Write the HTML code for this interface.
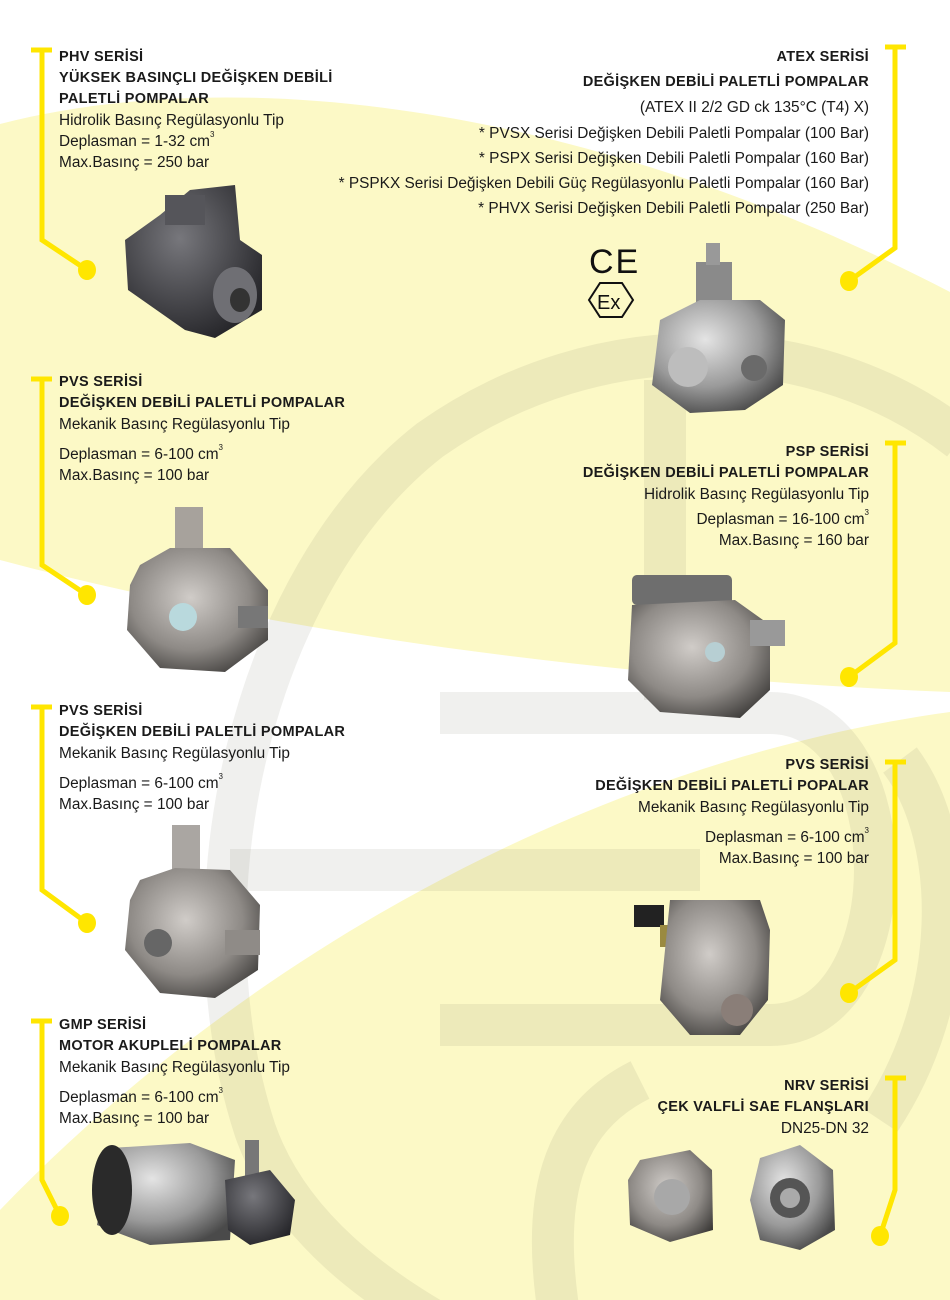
<!DOCTYPE html>
<html><head><meta charset="utf-8">
<style>
html,body{margin:0;padding:0}
body{width:950px;height:1300px;position:relative;overflow:hidden;background:#fff;font-family:"Liberation Sans",sans-serif;color:#1a1a1a}
.t{position:absolute;font-size:15.4px;line-height:21px;white-space:nowrap}
.b{font-weight:bold;letter-spacing:0.3px;font-size:14.5px}
.r{text-align:right}
sup{font-size:8px;vertical-align:top;line-height:8px}
svg{position:absolute;left:0;top:0}
</style></head><body>
<svg width="950" height="1300" viewBox="0 0 950 1300">
  <defs>
    <radialGradient id="dk" cx="40%" cy="35%" r="70%"><stop offset="0" stop-color="#77777c"/><stop offset="1" stop-color="#26262a"/></radialGradient>
    <radialGradient id="sv" cx="40%" cy="35%" r="70%"><stop offset="0" stop-color="#e4e4e4"/><stop offset="0.6" stop-color="#9a9a9a"/><stop offset="1" stop-color="#4a4a4a"/></radialGradient>
    <radialGradient id="sv2" cx="45%" cy="40%" r="70%"><stop offset="0" stop-color="#d0ccc8"/><stop offset="0.6" stop-color="#8e8a86"/><stop offset="1" stop-color="#3c3a38"/></radialGradient>
  </defs>
  <path d="M0 124 C 250 60, 600 110, 950 292 L950 1300 L0 1300 Z" fill="#fcf9c6"/>
  <path d="M0 560 C 300 640, 650 680, 950 692 L950 712 C 600 760, 250 950, 0 1210 Z" fill="#fff"/>
  <g fill="none" stroke="rgba(110,110,90,0.10)" stroke-width="42">
    <path d="M960 440 C 820 330, 600 320, 430 440 C 250 580, 180 900, 255 1130 C 290 1230, 380 1290, 450 1330"/>
    <path d="M440 713 L 770 713 C 910 713, 910 1025, 770 1025 L 440 1025"/>
    <path d="M665 380 L665 700"/>
    <path d="M230 870 L700 870"/>
    <path d="M560 1320 C 540 1200, 560 1120, 640 1080"/>
    <path d="M900 760 C 960 840, 960 1000, 880 1120"/>
  </g>
  <g stroke="#ffe600" stroke-width="5" fill="none">
    <path d="M31 50 L52 50 M42 50 L42 240 L87 270"/>
    <path d="M31 379 L52 379 M42 379 L42 565 L87 595"/>
    <path d="M31 707 L52 707 M42 707 L42 890 L87 923"/>
    <path d="M31 1021 L52 1021 M42 1021 L42 1180 L60 1216"/>
    <path d="M885 47 L906 47 M895 47 L895 248 L849 281"/>
    <path d="M885 443 L906 443 M895 443 L895 643 L849 677"/>
    <path d="M885 762 L906 762 M895 762 L895 960 L849 993"/>
    <path d="M885 1078 L906 1078 M895 1078 L895 1190 L880 1236"/>
  </g>
  <g fill="#ffe600">
    <ellipse cx="87" cy="270" rx="9" ry="10"/><ellipse cx="87" cy="595" rx="9" ry="10"/>
    <ellipse cx="87" cy="923" rx="9" ry="10"/><ellipse cx="60" cy="1216" rx="9" ry="10"/>
    <ellipse cx="849" cy="281" rx="9" ry="10"/><ellipse cx="849" cy="677" rx="9" ry="10"/>
    <ellipse cx="849" cy="993" rx="9" ry="10"/><ellipse cx="880" cy="1236" rx="9" ry="10"/>
  </g>
  <g>
    <path d="M160 215 L190 190 L235 185 L240 240 L262 255 L262 310 L215 338 L185 330 L128 290 L125 240 Z" fill="url(#dk)"/>
    <rect x="165" y="195" width="40" height="30" fill="#55555a"/>
    <ellipse cx="235" cy="295" rx="22" ry="28" fill="#6f6f74"/><ellipse cx="240" cy="300" rx="10" ry="12" fill="#333"/>
    <rect x="696" y="262" width="36" height="50" fill="#8a8a8a"/><rect x="706" y="243" width="14" height="22" fill="#999"/>
    <path d="M660 320 L700 300 L760 300 L785 320 L783 385 L745 410 L690 413 L652 385 Z" fill="url(#sv)"/>
    <circle cx="688" cy="367" r="20" fill="#bdbdbd"/><circle cx="754" cy="368" r="13" fill="#6a6a6a"/>
    <text x="589" y="273" font-family="Liberation Sans" font-size="34" fill="#111" letter-spacing="2">CE</text>
    <polygon points="600,283 622,283 633,300 622,317 600,317 589,300" fill="none" stroke="#111" stroke-width="2"/>
    <text x="597" y="309" font-family="Liberation Sans" font-size="20" fill="#111">Ex</text>
    <rect x="175" y="507" width="28" height="50" fill="#a7a29c"/>
    <path d="M140 565 L170 548 L230 548 L268 590 L268 640 L225 672 L160 668 L127 630 L130 585 Z" fill="url(#sv2)"/>
    <circle cx="183" cy="617" r="14" fill="#b9d9dd"/><rect x="238" y="606" width="30" height="22" fill="#777"/>
    <rect x="632" y="575" width="100" height="30" rx="5" fill="#6e6e6e"/>
    <path d="M632 605 L735 600 L770 625 L770 690 L740 718 L660 712 L628 680 Z" fill="url(#sv2)"/>
    <rect x="750" y="620" width="35" height="26" fill="#999"/><circle cx="715" cy="652" r="10" fill="#b7cfd3"/>
    <rect x="172" y="825" width="28" height="50" fill="#aaa6a2"/>
    <path d="M140 880 L175 868 L230 870 L260 905 L258 970 L215 998 L160 993 L125 950 L130 900 Z" fill="url(#sv2)"/>
    <circle cx="158" cy="943" r="14" fill="#666"/><rect x="225" y="930" width="35" height="25" fill="#8f8b87"/>
    <rect x="634" y="905" width="30" height="22" fill="#222"/><rect x="660" y="925" width="28" height="22" fill="#9a8a40"/>
    <path d="M670 900 L760 900 L770 930 L768 1000 L740 1035 L690 1035 L660 1000 L665 950 Z" fill="url(#sv2)"/>
    <circle cx="737" cy="1010" r="16" fill="#8a7e78"/>
    <path d="M110 1148 L190 1143 L235 1160 L230 1240 L150 1245 L97 1225 Z" fill="url(#sv)"/>
    <ellipse cx="112" cy="1190" rx="20" ry="45" fill="#2a2a2a"/>
    <rect x="245" y="1140" width="14" height="40" fill="#777"/>
    <path d="M225 1180 L270 1170 L295 1200 L290 1235 L250 1245 L228 1230 Z" fill="url(#dk)"/>
    <path d="M640 1160 L690 1150 L712 1170 L713 1230 L670 1242 L630 1225 L628 1180 Z" fill="url(#sv2)"/>
    <circle cx="672" cy="1197" r="18" fill="#a8a8a8"/>
    <path d="M760 1158 L800 1145 L833 1170 L835 1230 L800 1250 L760 1240 L750 1200 Z" fill="url(#sv)"/>
    <circle cx="790" cy="1198" r="20" fill="#555"/><circle cx="790" cy="1198" r="10" fill="#aaa"/>
  </g>
</svg>

<div class="t" style="left:59px;top:47px">
<div class="b">PHV SERİSİ</div>
<div class="b">YÜKSEK BASINÇLI DEĞİŞKEN DEBİLİ</div>
<div class="b">PALETLİ POMPALAR</div>
<div>Hidrolik Basınç Regülasyonlu Tip</div>
<div>Deplasman = 1-32 cm<sup>3</sup></div>
<div>Max.Basınç = 250 bar</div>
</div>

<div class="t r" style="right:81px;top:45px;line-height:25.2px">
<div class="b">ATEX SERİSİ</div>
<div class="b">DEĞİŞKEN DEBİLİ PALETLİ POMPALAR</div>
<div>(ATEX II 2/2 GD ck 135°C (T4) X)</div>
<div>* PVSX Serisi Değişken Debili Paletli Pompalar (100 Bar)</div>
<div>* PSPX Serisi Değişken Debili Paletli Pompalar (160 Bar)</div>
<div>* PSPKX Serisi Değişken Debili Güç Regülasyonlu Paletli Pompalar (160 Bar)</div>
<div>* PHVX Serisi Değişken Debili Paletli Pompalar (250 Bar)</div>
</div>

<div class="t" style="left:59px;top:372px">
<div class="b">PVS SERİSİ</div>
<div class="b">DEĞİŞKEN DEBİLİ PALETLİ POMPALAR</div>
<div>Mekanik Basınç Regülasyonlu Tip</div>
<div style="margin-top:9px">Deplasman = 6-100 cm<sup>3</sup></div>
<div>Max.Basınç = 100 bar</div>
</div>

<div class="t r" style="right:81px;top:442px">
<div class="b">PSP SERİSİ</div>
<div class="b">DEĞİŞKEN DEBİLİ PALETLİ POMPALAR</div>
<div>Hidrolik Basınç Regülasyonlu Tip</div>
<div style="margin-top:4px">Deplasman = 16-100 cm<sup>3</sup></div>
<div>Max.Basınç = 160 bar</div>
</div>

<div class="t" style="left:59px;top:701px">
<div class="b">PVS SERİSİ</div>
<div class="b">DEĞİŞKEN DEBİLİ PALETLİ POMPALAR</div>
<div>Mekanik Basınç Regülasyonlu Tip</div>
<div style="margin-top:9px">Deplasman = 6-100 cm<sup>3</sup></div>
<div>Max.Basınç = 100 bar</div>
</div>

<div class="t r" style="right:81px;top:755px">
<div class="b">PVS SERİSİ</div>
<div class="b">DEĞİŞKEN DEBİLİ PALETLİ POPALAR</div>
<div>Mekanik Basınç Regülasyonlu Tip</div>
<div style="margin-top:9px">Deplasman = 6-100 cm<sup>3</sup></div>
<div>Max.Basınç = 100 bar</div>
</div>

<div class="t" style="left:59px;top:1015px">
<div class="b">GMP SERİSİ</div>
<div class="b">MOTOR AKUPLELİ POMPALAR</div>
<div>Mekanik Basınç Regülasyonlu Tip</div>
<div style="margin-top:9px">Deplasman = 6-100 cm<sup>3</sup></div>
<div>Max.Basınç = 100 bar</div>
</div>

<div class="t r" style="right:81px;top:1076px">
<div class="b">NRV SERİSİ</div>
<div class="b">ÇEK VALFLİ SAE FLANŞLARI</div>
<div>DN25-DN 32</div>
</div>
</body></html>
